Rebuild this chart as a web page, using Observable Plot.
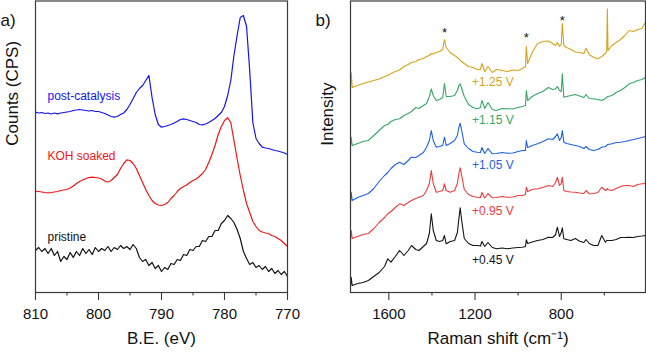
<!DOCTYPE html>
<html>
<head>
<meta charset="utf-8">
<script src="https://cdn.jsdelivr.net/npm/d3@7"></script>
<script src="https://cdn.jsdelivr.net/npm/@observablehq/plot@0.6"></script>
<style>
  body { margin: 0; background: #fff; }
  #fig { position: relative; width: 646px; height: 355px; overflow: hidden; background: #fff; }
  #fig > div { position: absolute; top: 0; }
  #panelA { left: 0; }
  #panelB { left: 312px; }
</style>
</head>
<body>
<div id="fig"><div id="panelA"></div><div id="panelB"></div></div>
<script>
const FONT = '"Liberation Sans", Arial, Helvetica, sans-serif';
const AXIS = "#3a3a3a";

// ---------- (a) XPS spectra, binding energy in eV (stacked, arbitrary units) ----------
const bindingEnergy = [
  810, 809.5, 809, 808.5, 808, 807.5, 807, 806.5, 806, 805.5,
  805, 804.5, 804, 803.5, 803, 802.5, 802, 801.5, 801, 800.5,
  800, 799.5, 799, 798.5, 798, 797.5, 797, 796.5, 796, 795.5,
  795, 794.5, 794, 793.5, 793, 792.5, 792, 791.5, 791, 790.5,
  790, 789.5, 789, 788.5, 788, 787.5, 787, 786.5, 786, 785.5,
  785, 784.5, 784, 783.5, 783, 782.5, 782, 781.5, 781, 780.5,
  780, 779.5, 779, 778.5, 778, 777.5, 777, 776.5, 776, 775.5,
  775, 774.5, 774, 773.5, 773, 772.5, 772, 771.5, 771, 770.5,
  770
];
const postCatalysis = [
  180.3, 179.5, 180, 179, 179.5, 178.5, 179.5, 178.7, 179.5, 180,
  180.5, 181, 182, 182.5, 183, 182.5, 182, 181.5, 182, 181,
  181, 180, 179, 177.5, 176, 175.3, 176, 178, 179.5, 183,
  188, 194, 200, 204, 207, 212, 217, 195, 178, 168,
  165.3, 166, 167, 168, 169.5, 171, 173, 173.7, 173, 172,
  171, 170, 168, 167.7, 168.5, 170, 172, 174, 177, 180,
  186, 197, 212, 237, 257, 275, 277, 266, 222, 170,
  154, 149, 145.3, 144.5, 144, 143, 142, 141.5, 140.5, 139.5,
  138
];
const kohSoaked = [
  101.3, 101, 100.5, 100, 99.7, 100, 100.5, 101, 102, 102.5,
  103, 104.5, 106.5, 109, 111, 112.5, 114, 115, 115.3, 115,
  114.5, 113.5, 111.5, 110.5, 112, 115, 118, 124, 129, 132.7,
  132, 129, 124, 117, 110, 103, 97, 92, 89, 87.5,
  87, 88, 90, 94, 97, 101, 104, 106, 107.5, 110,
  112, 113.5, 116, 119, 123, 130, 138, 147, 158, 166,
  172, 174.7, 170, 152, 134, 117, 102, 89, 80, 71,
  66, 62, 60.5, 59.5, 59, 57, 56, 54, 52, 49,
  46
];
const pristine = [
  42, 45, 41, 44, 39, 44, 37, 41, 31, 36,
  33, 40, 35, 41, 37, 44, 39, 43, 38, 45,
  41, 44, 42, 46, 41, 45, 43, 47, 44, 46,
  43, 48, 44, 35, 31, 33, 27, 30, 24, 27,
  21, 25, 23, 29, 28, 33, 32, 38, 37, 43,
  42, 46, 46, 52, 51, 56, 56, 62, 62, 69,
  72, 77, 74, 70, 63, 54, 41, 34, 28, 30,
  25, 27, 23, 26, 21, 24, 19, 22, 18, 21,
  16
];
const xpsNames = ["post-catalysis", "KOH soaked", "pristine"];
const xpsColors = ["#1414f2", "#f21414", "#111111"];
const xpsLabelEnergy = [808.1, 808.1, 808.1];
const xpsLabelLevel = [196.3, 136.3, 55.3];
const xpsMajorTicks = [810, 800, 790, 780, 770];
const xpsMinorTicks = [805, 795, 785, 775];

// ---------- (b) Raman spectra at increasing potentials (stacked, arbitrary units) ----------
const ramanShift = [
  1778, 1775, 1770, 1745, 1720, 1695, 1670, 1645, 1620, 1605,
  1590, 1570, 1550, 1530, 1510, 1495, 1475, 1460, 1440, 1425,
  1412, 1403, 1394, 1380, 1365, 1350, 1342, 1334, 1315, 1295,
  1282, 1275, 1269, 1262, 1250, 1230, 1210, 1190, 1175, 1168,
  1155, 1140, 1120, 1100, 1075, 1050, 1025, 1000, 980, 966,
  962, 956, 935, 910, 885, 860, 840, 826, 818, 808,
  800, 795, 788, 775, 755, 735, 715, 695, 685, 670,
  650, 630, 612, 595, 589, 586, 583, 565, 545, 525,
  505, 485, 465, 445, 425, 410
];
const raman125 = [
  204, 220, 205, 207, 209, 210.5, 212, 213.5, 216, 217,
  219, 221, 222.5, 226, 228, 230, 231, 233, 234, 236,
  237, 239, 238.5, 240, 241, 243, 253, 245, 240, 237,
  235, 234, 232, 231, 229, 226, 225, 223, 223, 229,
  221, 226, 220, 223, 222, 221, 222.5, 222, 224, 226,
  246, 229, 240, 249, 251, 251.5, 249, 247, 250, 246,
  248, 269, 247, 245, 243, 240.5, 240, 239, 244.3, 238,
  235, 233.7, 236, 239, 241, 283.7, 242, 247, 250, 253,
  257, 262, 261, 263, 264, 270
];
const raman115 = [
  145.3, 155.3, 147, 149, 151, 152, 157, 162, 167, 168,
  171, 173, 173.7, 177, 179, 181, 185, 184, 187, 189,
  196, 203.7, 197, 192, 193, 195, 209, 196, 196, 197,
  202, 207, 208.7, 204, 196, 188, 185, 183.7, 185, 192,
  184, 190, 183, 182, 184, 183.7, 183.5, 185, 186, 187,
  202, 192, 196, 199, 201, 205, 203, 203.7, 206, 202,
  201, 218.7, 195.3, 196, 197, 198, 196.5, 195, 198, 194,
  193.7, 193, 192, 194, 195, 196, 196, 197, 200, 202,
  205, 208.7, 210, 212, 213, 215
];
const raman105 = [
  90.3, 100.3, 92, 95, 97, 99, 104, 111, 117, 120,
  124, 128, 130.3, 128, 132, 135.3, 135, 137, 140, 145.3,
  152, 162, 152, 145.3, 146, 147, 155.3, 147, 149, 152,
  157, 165, 169.3, 162, 148.7, 144, 141, 140.3, 140, 145,
  139, 144, 138.7, 139, 140, 139.3, 139.5, 141, 142, 142,
  152, 145, 147, 148.7, 151, 153.7, 153, 156, 158.7, 152,
  155, 162, 150.3, 149, 148, 147, 146, 144, 146, 143,
  142, 143, 145.3, 146, 147, 148, 148, 148.7, 150, 150.3,
  151, 152, 153, 154, 155, 156
];
const raman095 = [
  52.7, 62, 54, 56, 58, 59, 64, 70, 75, 78.7,
  81, 85, 88.7, 87, 90, 92, 94, 95.3, 97, 102,
  109, 122, 109, 100.3, 101, 102, 108.7, 102, 100.3, 102,
  109, 119, 124.7, 117, 103, 98, 96, 95.3, 95, 100,
  94.5, 99, 94.7, 95, 96, 95.3, 95.5, 97, 97, 98,
  105.3, 101, 103, 103.7, 105, 107, 106, 110, 115.3, 107,
  109, 115.3, 102, 101, 100.5, 100.3, 99.5, 99, 102, 98.7,
  99, 100, 105.3, 102, 103, 104, 103, 102, 104, 106,
  107, 107, 106, 108, 108.7, 109
];
const raman045 = [
  5.3, 15.3, 7, 9, 10, 12, 16, 20, 26, 33.7,
  30.3, 36, 42, 37, 42, 47, 43, 42, 46, 49,
  59, 78.7, 62, 52, 51, 52, 57, 48.7, 51, 52,
  60, 74, 84.7, 72, 54, 49, 47, 47, 46.5, 51,
  46, 50, 45, 43.7, 44.5, 43.7, 44.5, 45, 45.3, 46,
  52.7, 49, 50.5, 52, 53, 55.3, 55, 58, 65.3, 56,
  60, 64.7, 53.7, 53, 52, 54, 51.3, 50, 53, 49,
  47, 47, 57, 50.3, 52, 52, 52, 52, 53, 55,
  55, 55.3, 55, 56, 56.5, 57
];
const ramanNames = ["+1.25 V", "+1.15 V", "+1.05 V", "+0.95 V", "+0.45 V"];
const ramanColors = ["#d9a21b", "#35a865", "#1d62e3", "#f03a3c", "#141414"];
const ramanLabelShift = [1214, 1214, 1214, 1214, 1214];
const ramanLabelLevel = [210.3, 172, 127, 81.3, 32.7];
// peaks marked with an asterisk on the +1.25 V trace
const starShift = [1342, 962, 795];
const starLevel = [259.5, 254.5, 272];
const ramanMajorTicks = [1600, 1200, 800];
const ramanMinorTicks = [1400, 1000, 600];

const ramanSeries = [raman125, raman115, raman105, raman095, raman045];
const xpsSeries = [postCatalysis, kohSoaked, pristine];

function axisMarks(major, minor) {
  return [
    Plot.axisX(major, {tickSize: 8, tickPadding: 8, fontSize: 15, stroke: AXIS, strokeWidth: 1.1,
      fill: "#111", tickFormat: d => String(d), label: null}),
    Plot.axisX(minor, {tickSize: 3.5, tickFormat: () => "", stroke: AXIS, strokeWidth: 1.1, label: null})
  ];
}

const plotA = Plot.plot({
  width: 312, height: 355,
  marginLeft: 35, marginRight: 25, marginTop: 0.5, marginBottom: 63,
  style: {fontFamily: FONT, background: "#fff", color: "#111", overflow: "visible"},
  x: {domain: [810, 770]},
  y: {domain: [0, 291.5], axis: null},
  marks: [
    ...xpsSeries.map((vals, k) => Plot.line(bindingEnergy, {
      x: d => d, y: (d, i) => vals[i], stroke: xpsColors[k], strokeWidth: 1.2
    })),
    Plot.text(xpsNames, {
      x: (d, i) => xpsLabelEnergy[i], y: (d, i) => xpsLabelLevel[i], text: d => d,
      fill: (d, i) => xpsColors[i], textAnchor: "start", fontSize: 12
    }),
    Plot.frame({stroke: AXIS, strokeWidth: 1.2}),
    ...axisMarks(xpsMajorTicks, xpsMinorTicks),
    Plot.text(["B.E. (eV)"], {frameAnchor: "bottom", dy: 51, text: d => d, fontSize: 17, fill: "#111"}),
    Plot.text(["Counts (CPS)"], {frameAnchor: "left", rotate: -90, dx: -23, dy: -1, text: d => d, fontSize: 17, fill: "#111"}),
    Plot.text(["a)"], {frameAnchor: "top-left", textAnchor: "start", dx: -35, dy: 13, text: d => d, fontSize: 17, fill: "#111"})
  ]
});

const plotB = Plot.plot({
  width: 334, height: 355,
  marginLeft: 38, marginRight: 1, marginTop: 0.5, marginBottom: 63,
  style: {fontFamily: FONT, background: "#fff", color: "#111", overflow: "visible"},
  x: {domain: [1778, 409]},
  y: {domain: [0, 291.5], axis: null},
  marks: [
    ...ramanSeries.map((vals, k) => Plot.line(ramanShift, {
      x: d => d, y: (d, i) => vals[i], stroke: ramanColors[k], strokeWidth: 1.1
    })),
    Plot.text(ramanNames, {
      x: (d, i) => ramanLabelShift[i], y: (d, i) => ramanLabelLevel[i], text: d => d,
      fill: (d, i) => ramanColors[i], textAnchor: "start", fontSize: 12
    }),
    Plot.text(starShift, {x: d => d, y: (d, i) => starLevel[i], text: () => "*", fontSize: 13, fill: "#111"}),
    Plot.frame({stroke: AXIS, strokeWidth: 1.2}),
    ...axisMarks(ramanMajorTicks, ramanMinorTicks),
    Plot.text(["Raman shift (cm⁻¹)"], {frameAnchor: "bottom", dy: 51, text: d => d, fontSize: 17, fill: "#111"}),
    Plot.text(["Intensity"], {frameAnchor: "left", rotate: -90, dx: -23, dy: -1, text: d => d, fontSize: 17, fill: "#111"}),
    Plot.text(["b)"], {frameAnchor: "top-left", textAnchor: "start", dx: -35, dy: 13, text: d => d, fontSize: 17, fill: "#111"})
  ]
});

document.getElementById("panelA").appendChild(plotA);
document.getElementById("panelB").appendChild(plotB);
</script>
</body>
</html>
